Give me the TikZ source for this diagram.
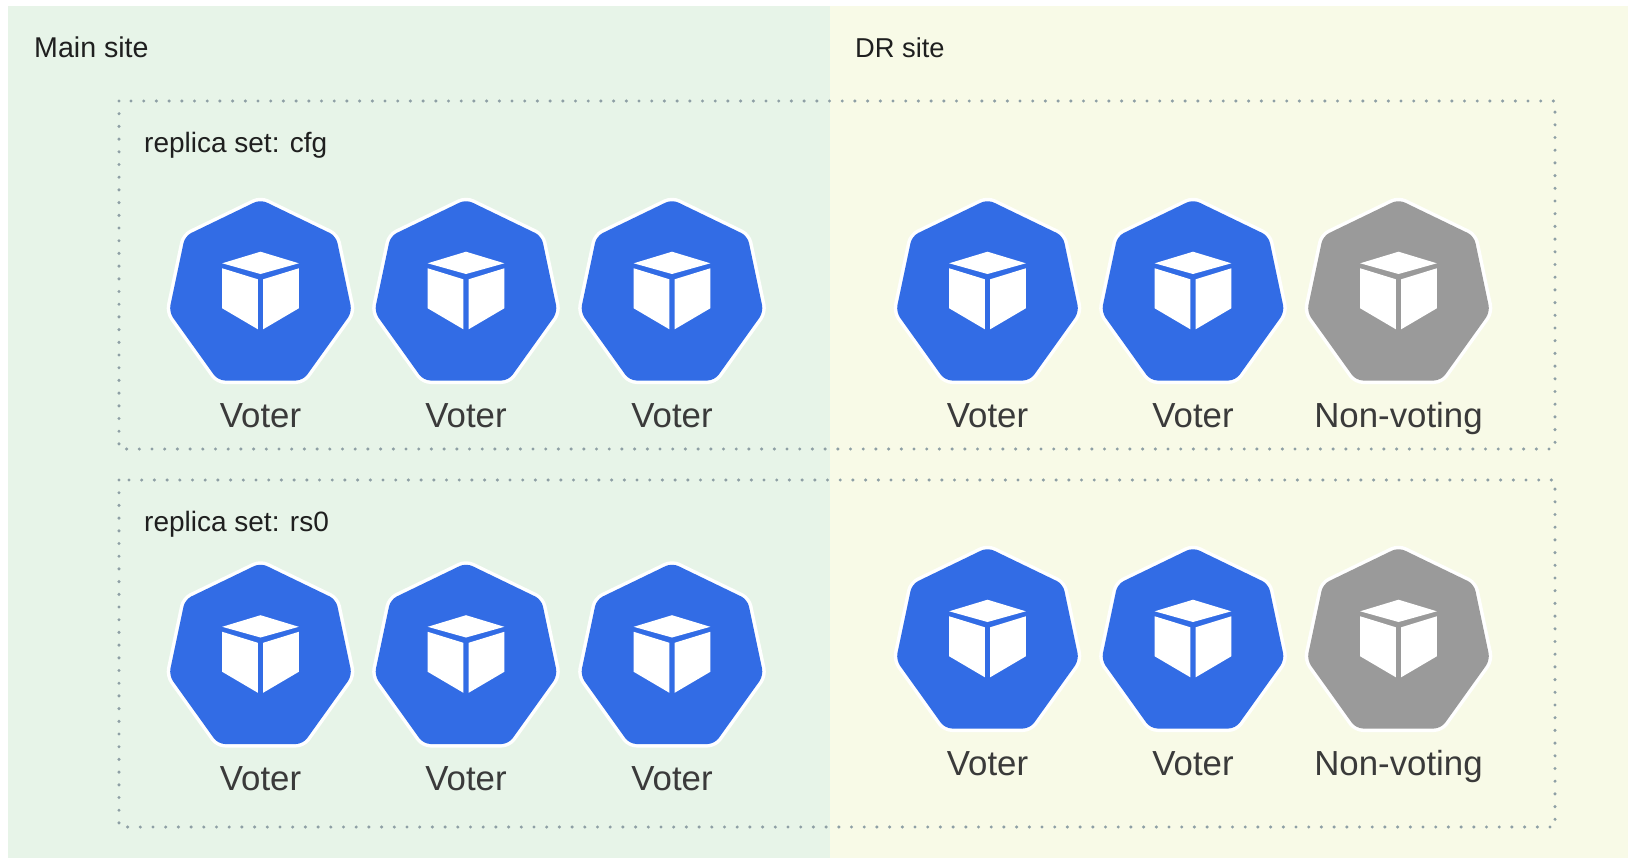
\documentclass[tikz,border=0pt]{standalone}
\usepackage{fontspec}
\setmainfont{Liberation Sans}
\definecolor{mainbg}{HTML}{E7F4E8}
\definecolor{drbg}{HTML}{F8FAE7}
\definecolor{kblue}{HTML}{326CE5}
\definecolor{kgray}{HTML}{9A9A9A}
\definecolor{dotc}{HTML}{8E9FA5}
\definecolor{labc}{HTML}{3A3A3A}
\tikzset{
  mainlabel/.style={anchor=base west,inner sep=0pt,font=\fontsize{28.6}{30}\selectfont,text=black!88},
  drlabel/.style={anchor=base west,inner sep=0pt,font=\fontsize{27.3}{30}\selectfont,text=black!88},
  setlabel/.style={anchor=base west,inner sep=0pt,font=\fontsize{28}{30}\selectfont,text=black!88},
  podlabel/.style={anchor=base,inner sep=0pt,font=\fontsize{34.8}{38}\selectfont,text=labc},
  setbox/.style={draw=dotc,line width=3.4pt,line cap=round,dash pattern=on 0pt off 12.7pt},
  heptline/.style={draw=white,line width=7pt,line join=round,rounded corners=7pt},
  heptfill/.style={rounded corners=7pt},
}
\newcommand{\heptpath}{(0,-0.5) -- (75.5,36) -- (91.5,112) -- (42.5,180.5) -- (-42.5,180.5) -- (-91.5,112) -- (-75.5,36) -- cycle}
\newcommand{\podicon}[5]{% name, x, top y, colour, label
  \begin{scope}[shift={(#2,#3)}]
    \draw[heptline] \heptpath;
    \fill[heptfill,#4] \heptpath;
    \fill[white] (0,51.7) -- (38.3,63.3) -- (0,74) -- (-38.3,63.3) -- cycle;
    \fill[white] (-38.3,68.3) -- (-2.6,79.3) -- (-2.6,129.3) -- (-38.3,108.3) -- cycle;
    \fill[white] (2.6,79.3) -- (38.3,68.3) -- (38.3,108.3) -- (2.6,129.3) -- cycle;
    \node[podlabel] (#1) at (0,227) {#5};
  \end{scope}
}
\begin{document}
\begin{tikzpicture}[x=1pt,y=-1pt]
  \useasboundingbox (0,0) rectangle (1628,859);
  \fill[white] (0,0) rectangle (1628,859);
  \fill[mainbg] (8,6) rectangle (830,858);
  \fill[drbg] (830,6) rectangle (1628,858);
  \node[mainlabel] (mainsite) at (34,57.5) {Main site};
  \node[drlabel] (drsite) at (855,57.5) {DR site};
  \draw[setbox] (119,101) rectangle (1555,449);
  \draw[setbox] (119,480) rectangle (1555,827);
  \node[setlabel] (cfg) at (144,152) {replica set: cfg};
  \node[setlabel] (rs) at (144,531) {replica set: rs0};
  \podicon{a1}{260.5}{200}{kblue}{Voter}
  \podicon{a2}{466}{200}{kblue}{Voter}
  \podicon{a3}{672}{200}{kblue}{Voter}
  \podicon{a4}{987.5}{200}{kblue}{Voter}
  \podicon{a5}{1193}{200}{kblue}{Voter}
  \podicon{a6}{1398.5}{200}{kgray}{Non-voting}
  \podicon{b1}{260.5}{563.5}{kblue}{Voter}
  \podicon{b2}{466}{563.5}{kblue}{Voter}
  \podicon{b3}{672}{563.5}{kblue}{Voter}
  \podicon{b4}{987.5}{548}{kblue}{Voter}
  \podicon{b5}{1193}{548}{kblue}{Voter}
  \podicon{b6}{1398.5}{548}{kgray}{Non-voting}
\end{tikzpicture}
\end{document}
